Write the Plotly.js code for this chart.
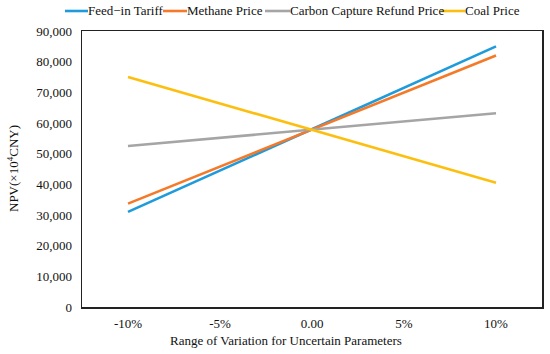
<!DOCTYPE html>
<html>
<head>
<meta charset="utf-8">
<script src="https://cdn.plot.ly/plotly-3.0.1.min.js"></script>
<style>html,body{margin:0;padding:0;background:#fff;}#chart{width:550px;height:354px;}</style>
</head>
<body>
<div id="chart"></div>
<script>
const categories = ['-10%', '-5%', '0.00', '5%', '10%'];
const seriesNames = ['Feed\u2212in Tariff', 'Methane Price', 'Carbon Capture Refund Price', 'Coal Price'];
const feedInTariff = [31000, 44500, 58000, 71500, 85000];
const methanePrice = [33700, 45800, 57900, 70000, 82000];
const carbonCaptureRefund = [52500, 55200, 57900, 60600, 63200];
const coalPrice = [75000, 66400, 57900, 49200, 40500];
const yTickVals = [0, 10000, 20000, 30000, 40000, 50000, 60000, 70000, 80000, 90000];
const yTickText = ['0', '10,000', '20,000', '30,000', '40,000', '50,000', '60,000', '70,000', '80,000', '90,000'];

const colors = ['#1f9bdb', '#f47a2a', '#a5a5a5', '#fdbf0f'];
const values = [feedInTariff, methanePrice, carbonCaptureRefund, coalPrice];
const mkFont = () => ({family: 'Liberation Serif, serif', size: 13, color: '#111'});

const M = {l: 82, r: 8, t: 31, b: 47};
const W = 550, H = 354;
const pw = W - M.l - M.r, ph = H - M.t - M.b;
const px = x => (x - M.l) / pw;
const py = y => (H - M.b - y) / ph;

const traces = values.map((v, i) => ({
  x: categories, y: v, type: 'scatter', mode: 'lines', name: seriesNames[i],
  line: {color: colors[i], width: 2.6}, showlegend: false
}));

// manual legend layout (pixel positions)
const legendSample = [[65, 88], [163, 187], [265, 290], [441, 465]];
const legendY = 11;
const shapes = [];
const annotations = [];
legendSample.forEach((s, i) => {
  shapes.push({type: 'line', xref: 'paper', yref: 'paper', x0: px(s[0]), x1: px(s[1]), y0: py(legendY), y1: py(legendY),
    line: {color: colors[i], width: 2.6}});
  annotations.push({xref: 'paper', yref: 'paper', x: px(s[1] - 2), y: py(legendY), xanchor: 'left', yanchor: 'middle',
    text: seriesNames[i], showarrow: false, font: mkFont()});
});
annotations.push({xref: 'paper', yref: 'paper', x: px(286), y: py(340), xanchor: 'center', yanchor: 'middle',
  text: 'Range of Variation for Uncertain Parameters', showarrow: false, font: mkFont()});
annotations.push({xref: 'paper', yref: 'paper', x: px(13), y: py(169), xanchor: 'center', yanchor: 'middle',
  text: 'NPV(\u00d710<sup>4</sup>CNY)', textangle: -90, showarrow: false, font: mkFont()});

const layout = {
  width: W, height: H, margin: M,
  paper_bgcolor: '#fff', plot_bgcolor: '#fff',
  font: mkFont(),
  xaxis: {type: 'category', range: [-0.5, 4.5], showgrid: false, zeroline: false, showline: true, mirror: true,
    linecolor: '#222', linewidth: 1.5, ticks: '', ticklabelstandoff: 4, tickfont: mkFont()},
  yaxis: {range: [0, 90000], tickvals: yTickVals, ticktext: yTickText, showgrid: false, zeroline: false,
    showline: true, mirror: true, linecolor: '#222', linewidth: 1.5,
    ticks: 'outside', ticklen: 6, tickcolor: 'rgba(0,0,0,0)', tickfont: mkFont()},
  shapes: shapes, annotations: annotations, showlegend: false
};

Plotly.newPlot('chart', traces, layout, {displayModeBar: false, staticPlot: true});
</script>
</body>
</html>
